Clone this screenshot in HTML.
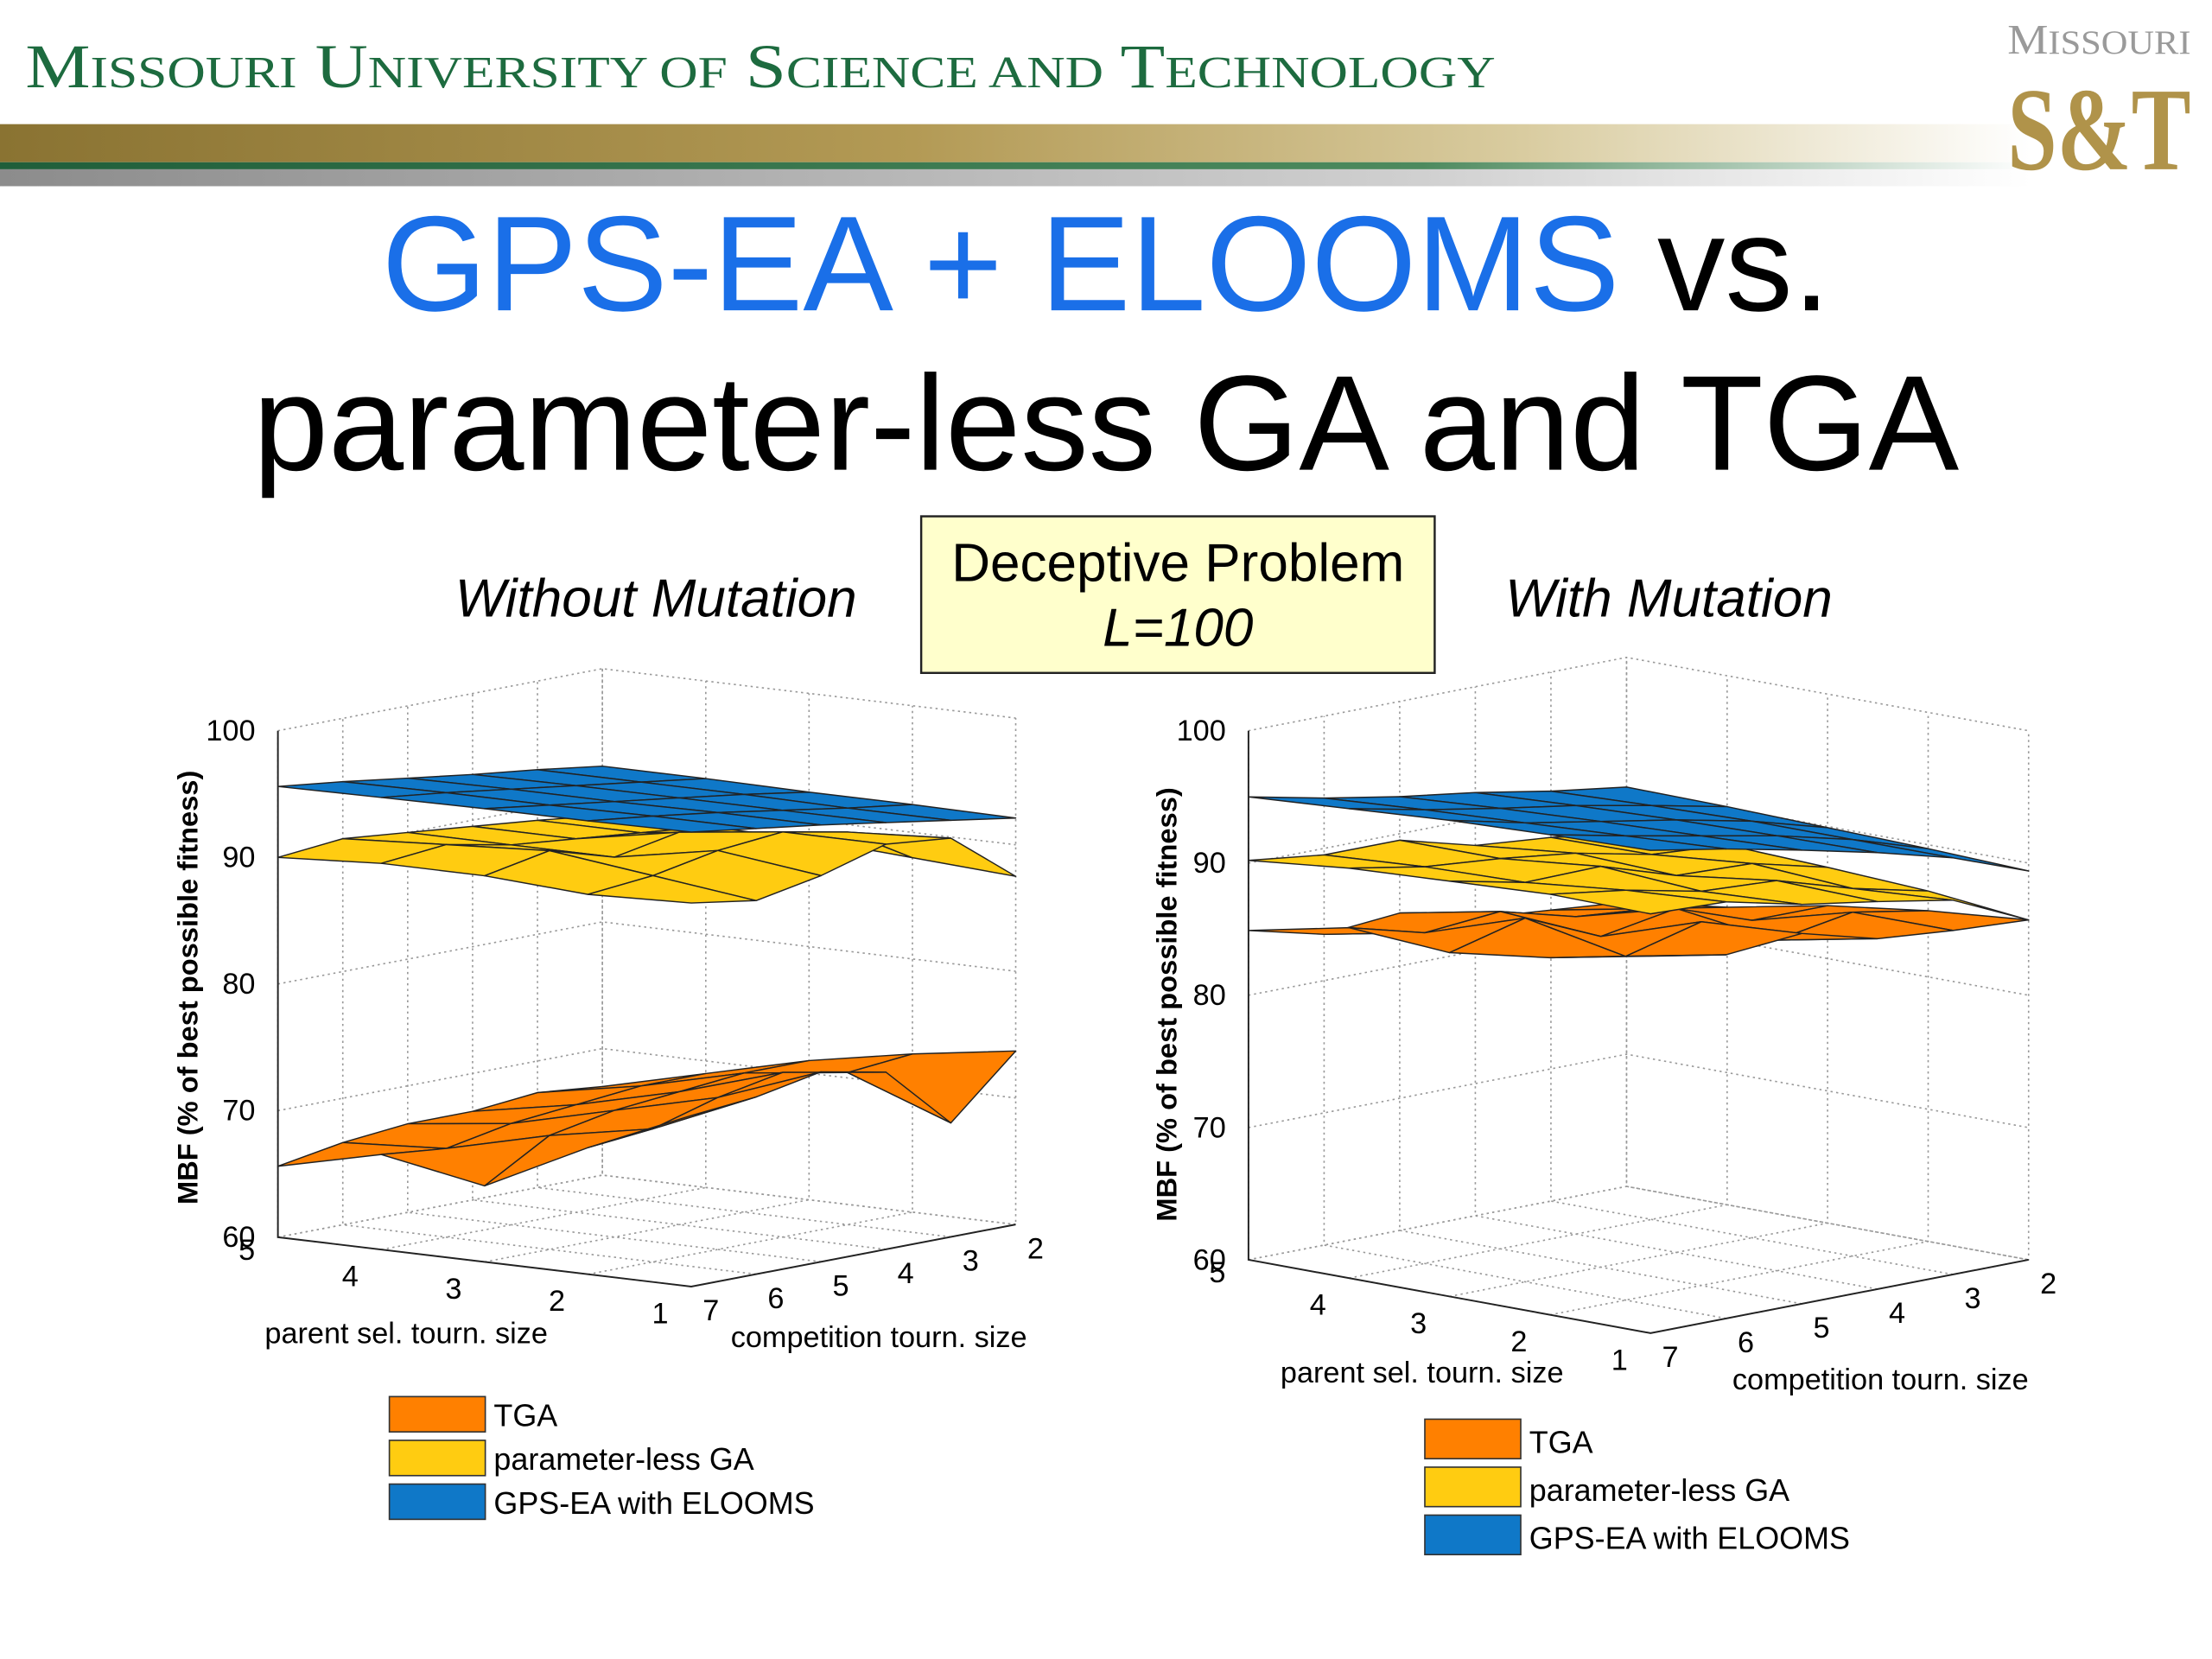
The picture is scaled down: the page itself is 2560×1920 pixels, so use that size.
<!DOCTYPE html>
<html><head><meta charset="utf-8">
<style>
html,body{margin:0;padding:0;background:#fff;}
svg{display:block;}
text{font-family:"Liberation Sans",Arial,sans-serif;}
text.serif{font-family:"Liberation Serif","DejaVu Serif",serif;}
</style></head>
<body>
<svg id="slide" width="2560" height="1920" viewBox="0 0 1568 1176" xmlns="http://www.w3.org/2000/svg">
<defs>
<linearGradient id="gold" x1="0" x2="1" y1="0" y2="0">
<stop offset="0" stop-color="#8a7332"/><stop offset="0.45" stop-color="#b39a55"/><stop offset="0.75" stop-color="#d9cca0"/><stop offset="1" stop-color="#ffffff"/>
</linearGradient>
<linearGradient id="green" x1="0" x2="1"><stop offset="0" stop-color="#1f5e3a"/><stop offset="0.7" stop-color="#4d8a5e"/><stop offset="1" stop-color="#ffffff"/></linearGradient>
<linearGradient id="grey" x1="0" x2="1"><stop offset="0" stop-color="#8c8c8c"/><stop offset="0.7" stop-color="#d0d0d0"/><stop offset="1" stop-color="#ffffff"/></linearGradient>
</defs>
<g>
<text class="serif" x="18" y="62" font-size="44" fill="#1d6b3f" textLength="1042" lengthAdjust="spacingAndGlyphs">M<tspan font-size="32">ISSOURI</tspan> U<tspan font-size="32">NIVERSITY OF</tspan> S<tspan font-size="32">CIENCE AND</tspan> T<tspan font-size="32">ECHNOLOGY</tspan></text>
<rect x="0" y="88" width="1440" height="27" fill="url(#gold)"/>
<rect x="0" y="115" width="1440" height="5" fill="url(#green)"/>
<rect x="0" y="120" width="1440" height="12" fill="url(#grey)"/>
<g>
<text class="serif" x="1488" y="38" text-anchor="middle" font-size="30" fill="#9a9a9a" textLength="130" lengthAdjust="spacingAndGlyphs">M<tspan font-size="24">ISSOURI</tspan></text>
<text class="serif" x="1488" y="120" text-anchor="middle" font-weight="bold" font-size="84" fill="#b0934a" textLength="130" lengthAdjust="spacingAndGlyphs">S&amp;T</text>
</g>
</g>
<text x="784" y="220" text-anchor="middle" font-size="96"><tspan fill="#1a6fe8">GPS-EA + ELOOMS</tspan><tspan fill="#000"> vs.</tspan></text>
<text x="784" y="333" text-anchor="middle" font-size="96" fill="#000">parameter-less GA and TGA</text>
<text x="465" y="437" text-anchor="middle" font-size="38" font-style="italic">Without Mutation</text>
<text x="1183" y="437" text-anchor="middle" font-size="38" font-style="italic">With Mutation</text>
<g>
<rect x="653" y="366" width="364" height="111" fill="#ffffcc" stroke="#222" stroke-width="1.5"/>
<text x="835" y="412" text-anchor="middle" font-size="38">Deceptive Problem</text>
<text x="835" y="458" text-anchor="middle" font-size="38" font-style="italic">L=100</text>
</g>
<g id="chartL"></g>
<g id="chartR"></g>
</svg>
<script>
// rows: parent sel. tourn. size 5,4,3,2,1 ; cols: competition tourn. size 7,6,5,4,3,2
const parentSizes = [5,4,3,2,1];
const compSizes = [7,6,5,4,3,2];
const zTicks = [60,70,80,90,100];
const seriesNames = ["TGA","parameter-less GA","GPS-EA with ELOOMS"];
const seriesColors = ["#ff8000","#ffcc11","#0f78c8"];

const leftTGA = [
 [65.6,66.5,67,67,67.5,67],
 [67.5,67,68,68.5,69,69],
 [66,69,70,70.5,71,71],
 [70,70.5,72,73,72,72.5],
 [73.5,74,75,74,69,73.7]];
const leftPGA = [
 [90,90.5,90,89.5,89,88.4],
 [90.5,91,90,89.5,89,88.5],
 [90.5,91.5,90,91,90,88.5],
 [90,90.5,91.5,92,91,88],
 [90.3,89.5,90.5,92,91.5,87.5]];
const leftGPS = [
 [95.6,95,94.3,93.6,93,92.3],
 [95.7,95.1,94.4,93.7,93,92.3],
 [95.8,95.1,94.4,93.7,93,92.2],
 [95.8,95.2,94.5,93.7,92.9,92.2],
 [95.9,95.2,94.5,93.7,92.9,92.1]];

const rightTGA = [
 [84.9,83.5,84,82.5,82,81.5],
 [86.5,85,85.5,84,83.5,82.5],
 [86,87.5,85,86,84,84],
 [87,86,87.5,85,86,85],
 [88.5,87.5,88,86.5,86,85.7]];
const rightPGA = [
 [90.2,89.5,89.5,88,87.5,86.6],
 [91,90,89.5,88.8,87.6,87.2],
 [91.4,90.2,90.3,88.5,88.3,86.9],
 [91.8,91,89.8,89.5,87.8,86.5],
 [91.7,91.5,90.2,89.3,88.3,85.7]];
const rightGPS = [
 [95,93.8,92.8,92,91,90.2],
 [95.5,94.3,93.3,92.4,91.3,90.1],
 [96,94.7,93.7,92.7,91.5,89.9],
 [96.3,95.1,94,92.9,91.5,89.7],
 [96.5,95.5,94.3,93,91.5,89.4]];

const NS="http://www.w3.org/2000/svg";
function mk(tag,attrs,parent){const e=document.createElementNS(NS,tag);for(const k in attrs)e.setAttribute(k,attrs[k]);parent.appendChild(e);return e;}

function drawChart(g,cfg,data){
  const P=(p,c,z)=>[cfg.o[0]+(p-1)*cfg.u[0]+(7-c)*cfg.v[0],
                    cfg.o[1]+(p-1)*cfg.u[1]+(7-c)*cfg.v[1]-(z-60)*cfg.w];
  const pts=a=>a.map(q=>q[0].toFixed(1)+","+q[1].toFixed(1)).join(" ");
  const grid={stroke:"#999","stroke-width":1,"stroke-dasharray":"1.5,2.5",fill:"none"};
  for(const z of zTicks){
    const l=mk("polyline",Object.assign({points:pts([P(5,7,z),P(5,2,z),P(1,2,z)])},grid),g);
    
    
  }
  for(const c of compSizes){
    const l=mk("polyline",Object.assign({points:pts([P(1,c,60),P(5,c,60),P(5,c,100)])},grid),g);
    
    
  }
  for(const p of parentSizes){
    const l=mk("polyline",Object.assign({points:pts([P(p,7,60),P(p,2,60),P(p,2,100)])},grid),g);
    
    
  }
  const ax=mk("polyline",{points:pts([P(5,7,100),P(5,7,60),P(1,7,60),P(1,2,60)]),stroke:"#222","stroke-width":1.2,fill:"none"},g);
  
  
  data.forEach((S,si)=>{
    const quads=[];
    for(let i=0;i<parentSizes.length-1;i++)for(let j=0;j<compSizes.length-1;j++){
      const depth=(parentSizes[i]-1)+(7-compSizes[j]);
      quads.push({i,j,depth});
    }
    quads.sort((a,b)=>b.depth-a.depth);
    for(const q of quads){
      const {i,j}=q;
      const poly=[P(parentSizes[i],compSizes[j],S[i][j]),P(parentSizes[i],compSizes[j+1],S[i][j+1]),
        P(parentSizes[i+1],compSizes[j+1],S[i+1][j+1]),P(parentSizes[i+1],compSizes[j],S[i+1][j])];
      const e=mk("polygon",{points:pts(poly),fill:seriesColors[si],stroke:"#222","stroke-width":0.9,"stroke-linejoin":"round"},g);
      
      
    }
  });
  for(const z of zTicks){
    const q=P(5,7,z);
    const t=mk("text",{x:q[0]-16,y:q[1]+7,"text-anchor":"end","font-size":21},g);
    t.textContent=z;
    
    
  }
  for(const p of parentSizes){
    const q=P(p,7,60);
    const t=mk("text",{x:q[0]-22,y:q[1]+(p==5?16:26),"text-anchor":"middle","font-size":21},g);
    t.textContent=p;
    
    
  }
  for(const c of compSizes){
    const q=P(1,c,60);
    const t=mk("text",{x:q[0]+14,y:q[1]+24,"text-anchor":"middle","font-size":21},g);
    t.textContent=c;
    
    
  }
  const a1=mk("text",{x:cfg.pl[0],y:cfg.pl[1],"text-anchor":"middle","font-size":21},g);
  a1.textContent="parent sel. tourn. size";
  
  
  const a2=mk("text",{x:cfg.cl[0],y:cfg.cl[1],"text-anchor":"middle","font-size":21},g);
  a2.textContent="competition tourn. size";
  
  
  const a3=mk("text",{x:0,y:0,"text-anchor":"middle","font-size":20,"font-weight":"bold",transform:`translate(${cfg.zl[0]},${cfg.zl[1]}) rotate(-90)`},g);
  a3.textContent="MBF (% of best possible fitness)";
  
  
  seriesNames.forEach((n,k)=>{
    const y=cfg.lg[1]+k*cfg.lg[3];
    const r=mk("rect",{x:cfg.lg[0],y:y,width:cfg.lg[2],height:cfg.lg[3]-6,fill:seriesColors[k],stroke:"#333","stroke-width":1},g);
    
    
    const t=mk("text",{x:cfg.lg[0]+cfg.lg[2]+6,y:y+cfg.lg[3]-10,"font-size":22},g);
    t.textContent=n;
    
    
  });
}
drawChart(document.getElementById('chartL'),
  {o:[490,912],u:[-73.25,-8.75],v:[46,-8.8],w:8.975,pl:[288,952],cl:[623,955],zl:[140,700],lg:[276,990,68,31]},
  [leftTGA,leftPGA,leftGPS]);
drawChart(document.getElementById('chartR'),
  {o:[1170,945],u:[-71.25,-13],v:[53.6,-10.4],w:9.375,pl:[1008,980],cl:[1333,985],zl:[834,712],lg:[1010,1006,68,34]},
  [rightTGA,rightPGA,rightGPS]);
</script>
</body></html>
